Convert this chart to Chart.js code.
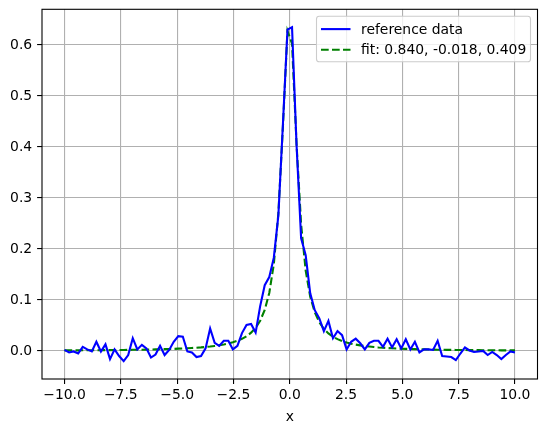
<!DOCTYPE html>
<html>
<head>
<meta charset="utf-8">
<script src="https://cdn.jsdelivr.net/npm/chart.js@4.4.1/dist/chart.umd.min.js"></script>
<style>
  body { margin: 0; background: #fff; }
</style>
</head>
<body>
<canvas id="fitChart" width="547" height="432"></canvas>
<script>
// sample positions (100 points from -10 to 10)
const xValues = [
  -10.000, -9.798, -9.596, -9.394, -9.192, -8.990, -8.788, -8.586, -8.384, -8.182,
  -7.980, -7.778, -7.576, -7.374, -7.172, -6.970, -6.768, -6.566, -6.364, -6.162,
  -5.960, -5.758, -5.556, -5.354, -5.152, -4.949, -4.747, -4.545, -4.343, -4.141,
  -3.939, -3.737, -3.535, -3.333, -3.131, -2.929, -2.727, -2.525, -2.323, -2.121,
  -1.919, -1.717, -1.515, -1.313, -1.111, -0.909, -0.707, -0.505, -0.303, -0.101,
  0.101, 0.303, 0.505, 0.707, 0.909, 1.111, 1.313, 1.515, 1.717, 1.919,
  2.121, 2.323, 2.525, 2.727, 2.929, 3.131, 3.333, 3.535, 3.737, 3.939,
  4.141, 4.343, 4.545, 4.747, 4.949, 5.152, 5.354, 5.556, 5.758, 5.960,
  6.162, 6.364, 6.566, 6.768, 6.970, 7.172, 7.374, 7.576, 7.778, 7.980,
  8.182, 8.384, 8.586, 8.788, 8.990, 9.192, 9.394, 9.596, 9.798, 10.000
];

// noisy measured curve
const referenceData = [
  0.002, -0.003, -0.001, -0.005, 0.008, 0.003, -0.001, 0.018, -0.001, 0.013,
  -0.016, 0.003, -0.010, -0.020, -0.008, 0.025, 0.003, 0.012, 0.005, -0.013,
  -0.007, 0.010, -0.008, 0.002, 0.018, 0.029, 0.028, -0.001, -0.003, -0.012,
  -0.010, 0.005, 0.044, 0.016, 0.010, 0.020, 0.020, 0.003, 0.010, 0.035,
  0.051, 0.053, 0.036, 0.088, 0.129, 0.145, 0.183, 0.266, 0.445, 0.630,
  0.635, 0.403, 0.221, 0.188, 0.113, 0.080, 0.064, 0.039, 0.059, 0.025,
  0.039, 0.031, 0.003, 0.018, 0.024, 0.015, 0.003, 0.016, 0.020, 0.020,
  0.008, 0.024, 0.007, 0.023, 0.005, 0.023, 0.003, 0.018, -0.003, 0.003,
  0.003, 0.002, 0.020, -0.010, -0.011, -0.012, -0.018, -0.005, 0.007, 0.001,
  -0.002, -0.001, 0.000, -0.008, -0.002, -0.008, -0.016, -0.008, -0.001, -0.003
];

// fitted curve
const fitData = [
  0.0011, 0.0011, 0.0012, 0.0012, 0.0013, 0.0014, 0.0014, 0.0015, 0.0016, 0.0016,
  0.0017, 0.0018, 0.0019, 0.0020, 0.0021, 0.0023, 0.0024, 0.0025, 0.0027, 0.0029,
  0.0031, 0.0033, 0.0035, 0.0038, 0.0041, 0.0045, 0.0049, 0.0053, 0.0058, 0.0064,
  0.0070, 0.0078, 0.0087, 0.0098, 0.0111, 0.0127, 0.0146, 0.0170, 0.0200, 0.0238,
  0.0289, 0.0358, 0.0454, 0.0593, 0.0803, 0.1138, 0.1703, 0.2704, 0.4401, 0.6278,
  0.6028, 0.4046, 0.2481, 0.1578, 0.1065, 0.0758, 0.0564, 0.0434, 0.0344, 0.0279,
  0.0231, 0.0194, 0.0165, 0.0142, 0.0124, 0.0109, 0.0096, 0.0086, 0.0077, 0.0069,
  0.0063, 0.0057, 0.0052, 0.0048, 0.0044, 0.0041, 0.0038, 0.0035, 0.0033, 0.0031,
  0.0029, 0.0027, 0.0025, 0.0024, 0.0022, 0.0021, 0.0020, 0.0019, 0.0018, 0.0017,
  0.0016, 0.0016, 0.0015, 0.0014, 0.0014, 0.0013, 0.0012, 0.0012, 0.0011, 0.0011
];

const seriesLabels = ['reference data', 'fit: 0.840, -0.018, 0.409'];
const xTicks = [-10, -7.5, -5, -2.5, 0, 2.5, 5, 7.5, 10];
const yTicks = [0, 0.1, 0.2, 0.3, 0.4, 0.5, 0.6];

const FONT = { family: 'DejaVu Sans', size: 13.9 };
const GRID = { color: '#b0b0b0', lineWidth: 1.1, tickLength: 4.9, tickColor: '#000', tickWidth: 1.1 };

// box around the plot and the legend in the upper right corner
const frameAndLegend = {
  id: 'frameAndLegend',
  afterDraw(chart) {
    const ctx = chart.ctx;
    const a = chart.chartArea;
    ctx.save();
    ctx.strokeStyle = '#000';
    ctx.lineWidth = 1.1;
    ctx.strokeRect(a.left, a.top, a.right - a.left, a.bottom - a.top);

    const w = 214, h = 45.5;
    const bx = a.right - 7 - w, by = a.top + 7;
    ctx.beginPath();
    ctx.roundRect(bx, by, w, h, 2.8);
    ctx.fillStyle = 'rgba(255,255,255,0.8)';
    ctx.fill();
    ctx.strokeStyle = '#cccccc';
    ctx.lineWidth = 1.1;
    ctx.stroke();

    ctx.font = FONT.size + 'px ' + FONT.family;
    ctx.textBaseline = 'middle';
    chart.data.datasets.forEach((ds, i) => {
      const y = by + 12.8 + i * 20.7;
      ctx.beginPath();
      ctx.strokeStyle = ds.borderColor;
      ctx.lineWidth = ds.borderWidth;
      ctx.setLineDash(ds.borderDash || []);
      ctx.moveTo(bx + 4.5, y);
      ctx.lineTo(bx + 34, y);
      ctx.stroke();
      ctx.setLineDash([]);
      ctx.fillStyle = '#000';
      ctx.fillText(ds.label, bx + 44.5, y + 1);
    });
    ctx.restore();
  }
};

const ctx = document.getElementById('fitChart').getContext('2d');
new Chart(ctx, {
  type: 'line',
  data: {
    datasets: [{
      label: seriesLabels[0],
      data: xValues.map((x, i) => ({ x: x, y: referenceData[i] })),
      borderColor: '#0000ff',
      borderWidth: 2.1,
      pointRadius: 0,
      tension: 0
    }, {
      label: seriesLabels[1],
      data: xValues.map((x, i) => ({ x: x, y: fitData[i] })),
      borderColor: '#008000',
      borderWidth: 2.1,
      borderDash: [7.7, 3.3],
      pointRadius: 0,
      tension: 0
    }]
  },
  options: {
    responsive: false,
    animation: false,
    events: [],
    layout: { padding: { top: 9.3, right: 9.5, left: 0, bottom: 0 } },
    plugins: {
      legend: { display: false },
      tooltip: { enabled: false }
    },
    scales: {
      x: {
        type: 'linear',
        min: -11,
        max: 11,
        afterBuildTicks: scale => { scale.ticks = xTicks.map(v => ({ value: v })); },
        afterFit: scale => {
          scale.height = 53;
          scale.paddingLeft = 0;
          scale.paddingRight = 0;
        },
        ticks: {
          color: '#000',
          font: FONT,
          padding: 3,
          maxRotation: 0,
          callback: v => v.toFixed(1).replace('-', '\u2212')
        },
        grid: GRID,
        border: { display: false },
        title: { display: true, text: 'x', color: '#000', font: FONT, padding: { top: 2, bottom: 6 } }
      },
      y: {
        type: 'linear',
        min: -0.055,
        max: 0.670,
        afterBuildTicks: scale => { scale.ticks = yTicks.map(v => ({ value: v })); },
        afterFit: scale => {
          scale.width = 42;
          scale.paddingTop = 0;
          scale.paddingBottom = 0;
        },
        ticks: {
          color: '#000',
          font: FONT,
          padding: 4.9,
          callback: v => v.toFixed(1)
        },
        grid: GRID,
        border: { display: false }
      }
    }
  },
  plugins: [frameAndLegend]
});
</script>
</body>
</html>
